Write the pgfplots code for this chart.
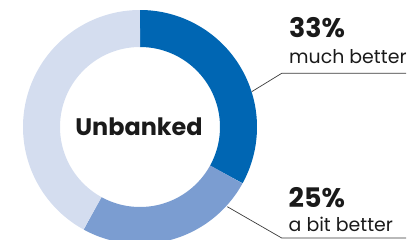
\documentclass[border=0pt]{standalone}
\usepackage{pgfplots}
\usepackage{pgfplotstable}
\pgfplotsset{compat=1.18}
\usepackage{fontspec}
\setmainfont{Poppins}
\definecolor{c1}{HTML}{0066B3}
\definecolor{c2}{HTML}{7B9DD1}
\definecolor{c3}{HTML}{D4DDEF}
\definecolor{txt}{HTML}{1A1A1A}
\definecolor{lead}{HTML}{3A3A3A}
\pgfplotstableread{
label share
muchbetter 33
bitbetter 25
other 42
}\shares
\begin{document}
\begin{tikzpicture}
\pgfplotstablegetelem{0}{share}\of\shares \pgfmathsetmacro{\va}{\pgfplotsretval}
\pgfplotstablegetelem{1}{share}\of\shares \pgfmathsetmacro{\vb}{\pgfplotsretval}
\pgfplotstablegetelem{2}{share}\of\shares \pgfmathsetmacro{\vc}{\pgfplotsretval}
\pgfmathsetmacro{\aA}{90-3.6*\va}
\pgfmathsetmacro{\aB}{\aA-3.6*\vb}
\pgfmathsetmacro{\aC}{\aB-3.6*\vc}
\def\cx{140}\def\cy{113}\def\rm{98.5}
\begin{axis}[x=1bp,y=1bp,xmin=0,xmax=417,ymin=0,ymax=240,hide axis]
\addplot[c1,line width=37bp,domain=\aA:90,samples=120] ({\cx+\rm*cos(x)},{\cy+\rm*sin(x)});
\addplot[c2,line width=37bp,domain=\aB:\aA,samples=120] ({\cx+\rm*cos(x)},{\cy+\rm*sin(x)});
\addplot[c3,line width=37bp,domain=\aC:\aB,samples=160] ({\cx+\rm*cos(x)},{\cy+\rm*sin(x)});
\addplot[lead,line width=0.7bp] coordinates {(251.7,148.3) (281.7,166.7) (406,166.7)};
\addplot[lead,line width=0.7bp] coordinates {(227.3,33.3) (281.7,2) (406,2)};
\node[anchor=base,text=txt,inner sep=0pt,font=\fontsize{24}{26}\selectfont\bfseries] at (axis cs:139,104.3) {Unbanked};
\node[anchor=base west,text=txt,inner sep=0pt,font=\fontsize{27}{30}\selectfont\bfseries] at (axis cs:289,202.5) {33\%};
\node[anchor=base west,text=txt,inner sep=0pt,font=\fontsize{19}{22}\selectfont] at (axis cs:289,176.7) {much better};
\node[anchor=base west,text=txt,inner sep=0pt,font=\fontsize{27}{30}\selectfont\bfseries] at (axis cs:288.5,32.7) {25\%};
\node[anchor=base west,text=txt,inner sep=0pt,font=\fontsize{19}{22}\selectfont] at (axis cs:288.5,8.3) {a bit better};
\end{axis}
\pgfresetboundingbox
\path (current axis.south west) rectangle (current axis.north east);
\end{tikzpicture}
\end{document}
